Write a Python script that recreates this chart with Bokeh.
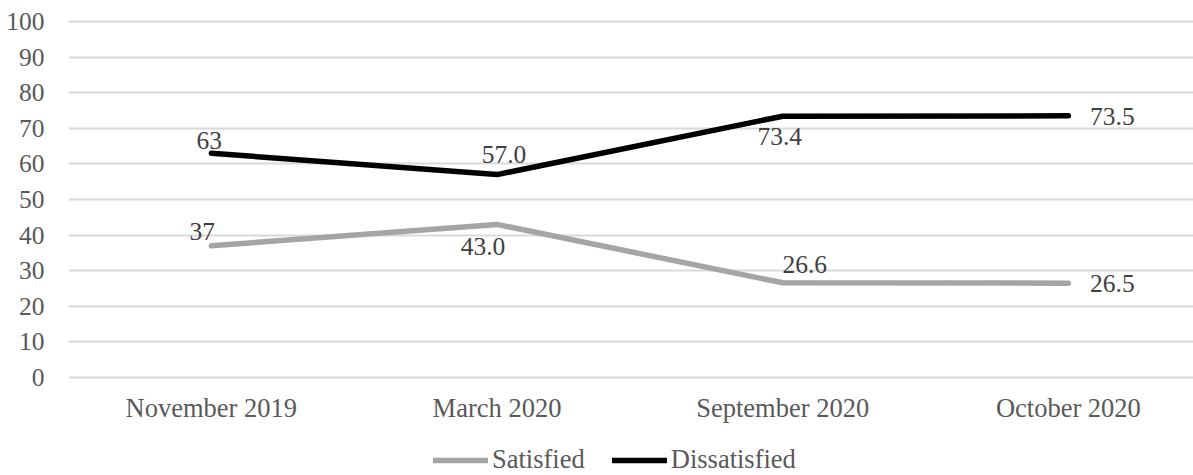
from bokeh.plotting import figure
from bokeh.layouts import column
from bokeh.models import (Range1d, FixedTicker, Legend, LegendItem, ColumnDataSource,
                          LabelSet)
from bokeh.core.properties import value
from bokeh.embed import file_html
from bokeh.resources import INLINE

# --- data ---------------------------------------------------------------
periods = ["November 2019", "March 2020", "September 2020", "October 2020"]
satisfied = [37, 43.0, 26.6, 26.5]
dissatisfied = [63, 57.0, 73.4, 73.5]
label_decimals = [0, 1, 1, 1]
y_ticks = [0, 10, 20, 30, 40, 50, 60, 70, 80, 90, 100]

# screen-pixel offsets for the value labels (x right, y up)
sat_label_dx = [-9, -14, 22, 44]
sat_label_dy = [14, -22, 18, 0]
dis_label_dx = [-2, 7, -3, 44]
dis_label_dy = [13, 20, -20, -1]

FONT = "Liberation Serif"
NUM_SIZE = "25.5px"
WORD_SIZE = "26.5px"
AXIS_GREY = "#595959"
LABEL_GREY = "#404040"
SAT_COLOR = "#a5a5a5"
DIS_COLOR = "#000000"

xs = list(range(len(periods)))

p = figure(width=1193, height=425, output_backend="svg", toolbar_location=None,
           x_range=Range1d(-0.5, 3.438), y_range=Range1d(-1.685, 103.09),
           min_border_left=68, min_border_right=0, min_border_top=10,
           min_border_bottom=42)
p.outline_line_color = None
p.background_fill_color = "white"
p.border_fill_color = "white"

# axes
p.xaxis.ticker = FixedTicker(ticks=xs)
p.xaxis.major_label_overrides = {i: s for i, s in zip(xs, periods)}
p.yaxis.ticker = FixedTicker(ticks=y_ticks)
for ax in (p.xaxis, p.yaxis):
    ax.axis_line_color = None
    ax.major_tick_line_color = None
    ax.minor_tick_line_color = None
    ax.major_tick_out = 0
    ax.major_tick_in = 0
    ax.major_label_text_font = FONT
    ax.major_label_text_color = AXIS_GREY
p.xaxis.major_label_text_font_size = WORD_SIZE
p.yaxis.major_label_text_font_size = NUM_SIZE
p.xaxis.major_label_standoff = 9
p.yaxis.major_label_standoff = 24

p.xgrid.grid_line_color = None
p.ygrid.ticker = FixedTicker(ticks=y_ticks)
p.ygrid.grid_line_color = "#d9d9d9"
p.ygrid.grid_line_width = 1.8

# series
p.line(xs, satisfied, line_color=SAT_COLOR, line_width=5.5, line_cap="round",
       line_join="round")
p.line(xs, dissatisfied, line_color=DIS_COLOR, line_width=5.5, line_cap="round",
       line_join="round")


def fmt(v, d):
    return f"{v:.{d}f}"


for vals, dx, dy in ((satisfied, sat_label_dx, sat_label_dy),
                     (dissatisfied, dis_label_dx, dis_label_dy)):
    src = ColumnDataSource(dict(x=xs, y=vals,
                                t=[fmt(v, d) for v, d in zip(vals, label_decimals)],
                                dx=dx, dy=dy))
    p.add_layout(LabelSet(x="x", y="y", text="t", x_offset="dx", y_offset="dy",
                          source=src, text_align="center", text_baseline="middle",
                          text_font=value(FONT), text_font_size=value(NUM_SIZE),
                          text_color=LABEL_GREY))

# legend strip underneath the chart; its line renderers fall outside the
# strip's ranges so only the legend swatches show
lg = figure(width=1193, height=50, output_backend="svg", toolbar_location=None,
            x_range=Range1d(-10, -9), y_range=Range1d(-10, -9),
            x_axis_location=None, y_axis_location=None, min_border=0)
lg.outline_line_color = None
lg.grid.visible = False
r_sat = lg.line(xs, satisfied, line_color=SAT_COLOR, line_width=5.5, line_cap="round")
r_dis = lg.line(xs, dissatisfied, line_color=DIS_COLOR, line_width=5.5, line_cap="round")
legend = Legend(items=[LegendItem(label="Satisfied", renderers=[r_sat]),
                       LegendItem(label="Dissatisfied", renderers=[r_dis])],
                orientation="horizontal", location=(365, 0),
                glyph_width=55, glyph_height=20, label_standoff=4, spacing=27,
                padding=0, margin=0, border_line_color=None,
                background_fill_alpha=0,
                label_text_font=FONT, label_text_font_size=WORD_SIZE,
                label_text_color=AXIS_GREY, label_height=20)
lg.add_layout(legend)

open("out.html", "w").write(file_html(column(p, lg, spacing=0), INLINE))
